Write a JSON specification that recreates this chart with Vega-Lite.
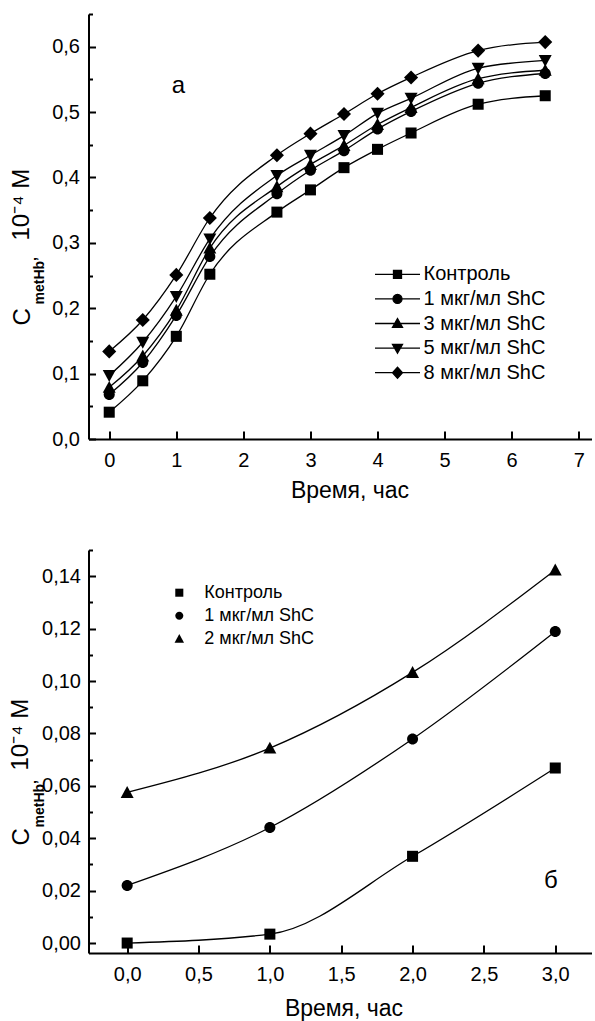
{
  "$schema": "https://vega.github.io/schema/vega-lite/v6.json",
  "padding": {"left": 7.5, "top": 4, "right": 0, "bottom": 0},
  "config": {
    "font": "Liberation Sans",
    "view": {"stroke": null},
    "axis": {"grid": false, "domainColor": "black", "domainWidth": 2, "tickColor": "black", "tickWidth": 2, "labelColor": "black", "titleColor": "black", "titleFontWeight": "normal", "labelFont": "Liberation Sans", "titleFont": "Liberation Sans", "labelOverlap": false, "labelFlush": false, "labelBound": false},
    "legend": {"labelFont": "Liberation Sans", "labelColor": "black", "padding": 0}
  },
  "resolve": {"scale": {"shape": "independent", "color": "independent"}, "legend": {"shape": "independent", "color": "independent"}},
  "datasets": {
    "top": [
      {"t": 0, "c": 0.041, "s": "Контроль"}, {"t": 0.5, "c": 0.089, "s": "Контроль"}, {"t": 1, "c": 0.157, "s": "Контроль"}, {"t": 1.5, "c": 0.252, "s": "Контроль"}, {"t": 2.5, "c": 0.347, "s": "Контроль"}, {"t": 3, "c": 0.381, "s": "Контроль"}, {"t": 3.5, "c": 0.415, "s": "Контроль"}, {"t": 4, "c": 0.443, "s": "Контроль"}, {"t": 4.5, "c": 0.468, "s": "Контроль"}, {"t": 5.5, "c": 0.512, "s": "Контроль"}, {"t": 6.5, "c": 0.525, "s": "Контроль"},
      {"t": 0, "c": 0.068, "s": "1 мкг/мл ShC"}, {"t": 0.5, "c": 0.117, "s": "1 мкг/мл ShC"}, {"t": 1, "c": 0.189, "s": "1 мкг/мл ShC"}, {"t": 1.5, "c": 0.279, "s": "1 мкг/мл ShC"}, {"t": 2.5, "c": 0.375, "s": "1 мкг/мл ShC"}, {"t": 3, "c": 0.411, "s": "1 мкг/мл ShC"}, {"t": 3.5, "c": 0.441, "s": "1 мкг/мл ShC"}, {"t": 4, "c": 0.474, "s": "1 мкг/мл ShC"}, {"t": 4.5, "c": 0.501, "s": "1 мкг/мл ShC"}, {"t": 5.5, "c": 0.544, "s": "1 мкг/мл ShC"}, {"t": 6.5, "c": 0.559, "s": "1 мкг/мл ShC"},
      {"t": 0, "c": 0.079, "s": "3 мкг/мл ShC"}, {"t": 0.5, "c": 0.127, "s": "3 мкг/мл ShC"}, {"t": 1, "c": 0.197, "s": "3 мкг/мл ShC"}, {"t": 1.5, "c": 0.292, "s": "3 мкг/мл ShC"}, {"t": 2.5, "c": 0.386, "s": "3 мкг/мл ShC"}, {"t": 3, "c": 0.42, "s": "3 мкг/мл ShC"}, {"t": 3.5, "c": 0.449, "s": "3 мкг/мл ShC"}, {"t": 4, "c": 0.481, "s": "3 мкг/мл ShC"}, {"t": 4.5, "c": 0.507, "s": "3 мкг/мл ShC"}, {"t": 5.5, "c": 0.551, "s": "3 мкг/мл ShC"}, {"t": 6.5, "c": 0.564, "s": "3 мкг/мл ShC"},
      {"t": 0, "c": 0.097, "s": "5 мкг/мл ShC"}, {"t": 0.5, "c": 0.148, "s": "5 мкг/мл ShC"}, {"t": 1, "c": 0.218, "s": "5 мкг/мл ShC"}, {"t": 1.5, "c": 0.306, "s": "5 мкг/мл ShC"}, {"t": 2.5, "c": 0.403, "s": "5 мкг/мл ShC"}, {"t": 3, "c": 0.434, "s": "5 мкг/мл ShC"}, {"t": 3.5, "c": 0.464, "s": "5 мкг/мл ShC"}, {"t": 4, "c": 0.498, "s": "5 мкг/мл ShC"}, {"t": 4.5, "c": 0.521, "s": "5 мкг/мл ShC"}, {"t": 5.5, "c": 0.567, "s": "5 мкг/мл ShC"}, {"t": 6.5, "c": 0.579, "s": "5 мкг/мл ShC"},
      {"t": 0, "c": 0.134, "s": "8 мкг/мл ShC"}, {"t": 0.5, "c": 0.182, "s": "8 мкг/мл ShC"}, {"t": 1, "c": 0.251, "s": "8 мкг/мл ShC"}, {"t": 1.5, "c": 0.338, "s": "8 мкг/мл ShC"}, {"t": 2.5, "c": 0.434, "s": "8 мкг/мл ShC"}, {"t": 3, "c": 0.467, "s": "8 мкг/мл ShC"}, {"t": 3.5, "c": 0.497, "s": "8 мкг/мл ShC"}, {"t": 4, "c": 0.528, "s": "8 мкг/мл ShC"}, {"t": 4.5, "c": 0.553, "s": "8 мкг/мл ShC"}, {"t": 5.5, "c": 0.594, "s": "8 мкг/мл ShC"}, {"t": 6.5, "c": 0.607, "s": "8 мкг/мл ShC"}
    ],
    "bot": [
      {"t": 0, "c": 0.0, "s": "Контроль"}, {"t": 1, "c": 0.0034, "s": "Контроль"}, {"t": 2, "c": 0.0331, "s": "Контроль"}, {"t": 3, "c": 0.0668, "s": "Контроль"},
      {"t": 0, "c": 0.022, "s": "1 мкг/мл ShC"}, {"t": 1, "c": 0.0441, "s": "1 мкг/мл ShC"}, {"t": 2, "c": 0.0779, "s": "1 мкг/мл ShC"}, {"t": 3, "c": 0.1189, "s": "1 мкг/мл ShC"},
      {"t": 0, "c": 0.0575, "s": "2 мкг/мл ShC"}, {"t": 1, "c": 0.0744, "s": "2 мкг/мл ShC"}, {"t": 2, "c": 0.1033, "s": "2 мкг/мл ShC"}, {"t": 3, "c": 0.1424, "s": "2 мкг/мл ShC"}
    ]
  },
  "columns": 1,
  "spacing": 38,
  "concat": [
    {
      "width": 503,
      "height": 425,
      "resolve": {"axis": {"y": "independent"}},
      "layer": [
        {
          "data": {"name": "top"},
          "mark": {"type": "line", "interpolate": "monotone", "strokeWidth": 1.3},
          "encoding": {
            "x": {"field": "t", "type": "quantitative", "title": "Время, час", "scale": {"domain": [-0.309, 7.19], "nice": false, "zero": false},
              "axis": {"values": [0, 0.5, 1, 1.5, 2, 2.5, 3, 3.5, 4, 4.5, 5, 5.5, 6, 6.5, 7], "labelExpr": "datum.value % 1 == 0 ? format(datum.value, 'd') : ''", "tickSize": {"condition": {"test": "datum.value % 1 == 0", "value": -8}, "value": -4.5}, "labelFontSize": 20, "labelPadding": 19, "title": "Время, час", "titleFontSize": 23, "titleX": 261, "titleY": 58, "titleAlign": "center", "titleBaseline": "alphabetic", "titleAngle": 0}},
            "y": {"field": "c", "type": "quantitative", "scale": {"domain": [0, 0.65], "nice": false, "zero": false},
              "axis": {"orient": "left", "values": [0, 0.05, 0.1, 0.15, 0.2, 0.25, 0.3, 0.35, 0.4, 0.45, 0.5, 0.55, 0.6, 0.65], "labelExpr": "abs(round(datum.value*10)-datum.value*10) < 0.000001 ? replace(format(datum.value, '.1f'), '.', ',') : ''", "tickSize": {"condition": {"test": "abs(round(datum.value*10)-datum.value*10) < 0.000001", "value": -7}, "value": -4}, "labelFontSize": 20, "labelPadding": 16, "title": "C", "titleFontSize": 24, "titleX": -59, "titleY": 311, "titleAngle": 270, "titleAlign": "left", "titleBaseline": "alphabetic"}},
            "color": {"field": "s", "type": "nominal",
              "scale": {"domain": ["Контроль", "1 мкг/мл ShC", "3 мкг/мл ShC", "5 мкг/мл ShC", "8 мкг/мл ShC"], "range": ["black", "black", "black", "black", "black"]},
              "legend": {"orient": "none", "legendX": 299, "legendY": 250.3, "title": null, "symbolSize": 100, "labelFontSize": 20, "labelOffset": 16, "rowPadding": 4.6,
                "encode": {"symbols": {"update": {
                  "shape": {"signal": "['M-4.5,0L4.5,0M-0.8,-0.8L0.8,-0.8L0.8,0.8L-0.8,0.8Z', 'M-4.5,0L4.5,0M0.9,0A0.9,0.9,0,1,1,-0.9,0A0.9,0.9,0,1,1,0.9,0Z', 'M-4.5,0L4.5,0M0,-1L1,0.75L-1,0.75Z', 'M-4.5,0L4.5,0M0,1L1,-0.75L-1,-0.75Z', 'M-4.5,0L4.5,0M0,-1.1L1,0L0,1.1L-1,0Z'][datum.index]"},
                  "fill": {"value": "black"}, "stroke": {"value": "black"}, "strokeWidth": {"value": 1.3}, "opacity": {"value": 1}}}}}}
          }
        },
        {
          "data": {"name": "top"},
          "mark": {"type": "point", "filled": true, "opacity": 1, "color": "black", "size": 150},
          "encoding": {
            "x": {"field": "t", "type": "quantitative", "title": "Время, час", "scale": {"domain": [-0.309, 7.19], "nice": false, "zero": false}},
            "y": {"field": "c", "type": "quantitative", "scale": {"domain": [0, 0.65], "nice": false, "zero": false},
              "axis": {"orient": "left", "domain": false, "ticks": false, "labels": false, "title": "metHb’", "titleFontSize": 14, "titleFontWeight": "bold", "titleX": -45, "titleY": 290, "titleAngle": 270, "titleAlign": "left", "titleBaseline": "alphabetic"}},
            "shape": {"field": "s", "type": "nominal",
              "scale": {"domain": ["8 мкг/мл ShC", "5 мкг/мл ShC", "3 мкг/мл ShC", "1 мкг/мл ShC", "Контроль"], "range": ["M0,-1.15L1.15,0L0,1.15L-1.15,0Z", "M0,1.05L1.06,-0.9L-1.06,-0.9Z", "M0,-1.05L1.06,0.9L-1.06,0.9Z", "M0.9,0A0.9,0.9,0,1,1,-0.9,0A0.9,0.9,0,1,1,0.9,0Z", "M-0.9,-0.9L0.9,-0.9L0.9,0.9L-0.9,0.9Z"]},
              "legend": null}
          }
        },
        {
          "data": {"values": [{"t": 1.03, "c": 0.54, "label": "а"}]},
          "mark": {"type": "text", "fontSize": 24, "color": "black", "align": "center", "baseline": "middle"},
          "encoding": {
            "x": {"field": "t", "type": "quantitative", "title": "Время, час", "scale": {"domain": [-0.309, 7.19], "nice": false, "zero": false}},
            "y": {"field": "c", "type": "quantitative", "scale": {"domain": [0, 0.65], "nice": false, "zero": false},
              "axis": {"orient": "left", "domain": false, "ticks": false, "labels": false, "title": "10⁻⁴  M", "titleFontSize": 24, "titleX": -60.5, "titleY": 226, "titleAngle": 270, "titleAlign": "left", "titleBaseline": "alphabetic"}},
            "text": {"field": "label", "type": "nominal"}
          }
        }
      ]
    },
    {
      "width": 503,
      "height": 403,
      "resolve": {"axis": {"y": "independent"}},
      "layer": [
        {
          "data": {"name": "bot"},
          "mark": {"type": "line", "interpolate": "monotone", "color": "black", "strokeWidth": 1.3},
          "encoding": {
            "x": {"field": "t", "type": "quantitative", "title": "Время, час", "scale": {"domain": [-0.271, 3.254], "nice": false, "zero": false},
              "axis": {"values": [0, 0.25, 0.5, 0.75, 1, 1.25, 1.5, 1.75, 2, 2.25, 2.5, 2.75, 3, 3.25], "labelExpr": "abs(round(datum.value*2)-datum.value*2) < 0.000001 ? replace(format(datum.value, '.1f'), '.', ',') : ''", "tickSize": {"condition": {"test": "abs(round(datum.value*2)-datum.value*2) < 0.000001", "value": -8}, "value": -4.5}, "labelFontSize": 20, "labelPadding": 19, "title": "Время, час", "titleFontSize": 23, "titleX": 255, "titleY": 62.5, "titleAlign": "center", "titleBaseline": "alphabetic", "titleAngle": 0}},
            "y": {"field": "c", "type": "quantitative", "scale": {"domain": [-0.0038, 0.15], "nice": false, "zero": false},
              "axis": {"orient": "left", "values": [0, 0.01, 0.02, 0.03, 0.04, 0.05, 0.06, 0.07, 0.08, 0.09, 0.1, 0.11, 0.12, 0.13, 0.14, 0.15], "labelExpr": "abs(round(datum.value*50)-datum.value*50) < 0.000001 ? replace(format(datum.value, '.2f'), '.', ',') : ''", "tickSize": {"condition": {"test": "abs(round(datum.value*50)-datum.value*50) < 0.000001", "value": -7}, "value": -4}, "labelFontSize": 20, "labelPadding": 15, "title": "C", "titleFontSize": 24, "titleX": -60, "titleY": 295, "titleAngle": 270, "titleAlign": "left", "titleBaseline": "alphabetic"}},
            "detail": {"field": "s", "type": "nominal"}
          }
        },
        {
          "data": {"name": "bot"},
          "mark": {"type": "point", "filled": true, "opacity": 1, "color": "black", "size": 150},
          "encoding": {
            "x": {"field": "t", "type": "quantitative", "title": "Время, час", "scale": {"domain": [-0.271, 3.254], "nice": false, "zero": false}},
            "y": {"field": "c", "type": "quantitative", "scale": {"domain": [-0.0038, 0.15], "nice": false, "zero": false},
              "axis": {"orient": "left", "domain": false, "ticks": false, "labels": false, "title": "metHb’", "titleFontSize": 14, "titleFontWeight": "bold", "titleX": -45.5, "titleY": 277, "titleAngle": 270, "titleAlign": "left", "titleBaseline": "alphabetic"}},
            "shape": {"field": "s", "type": "nominal",
              "scale": {"domain": ["Контроль", "1 мкг/мл ShC", "2 мкг/мл ShC"], "range": ["M-0.9,-0.9L0.9,-0.9L0.9,0.9L-0.9,0.9Z", "M0.9,0A0.9,0.9,0,1,1,-0.9,0A0.9,0.9,0,1,1,0.9,0Z", "M0,-1.05L1.06,0.9L-1.06,0.9Z"]},
              "legend": {"orient": "none", "legendX": 81.8, "legendY": 33.7, "title": null, "symbolSize": 80, "labelFontSize": 18, "labelOffset": 16, "rowPadding": 5, "symbolStrokeWidth": 0, "symbolFillColor": "black"}}
          }
        },
        {
          "data": {"values": [{"t": 2.97, "c": 0.0235, "label": "б"}]},
          "mark": {"type": "text", "fontSize": 24, "color": "black", "align": "center", "baseline": "middle"},
          "encoding": {
            "x": {"field": "t", "type": "quantitative", "title": "Время, час", "scale": {"domain": [-0.271, 3.254], "nice": false, "zero": false}},
            "y": {"field": "c", "type": "quantitative", "scale": {"domain": [-0.0038, 0.15], "nice": false, "zero": false},
              "axis": {"orient": "left", "domain": false, "ticks": false, "labels": false, "title": "10⁻⁴  M", "titleFontSize": 24, "titleX": -61.5, "titleY": 220, "titleAngle": 270, "titleAlign": "left", "titleBaseline": "alphabetic"}},
            "text": {"field": "label", "type": "nominal"}
          }
        }
      ]
    }
  ]
}
